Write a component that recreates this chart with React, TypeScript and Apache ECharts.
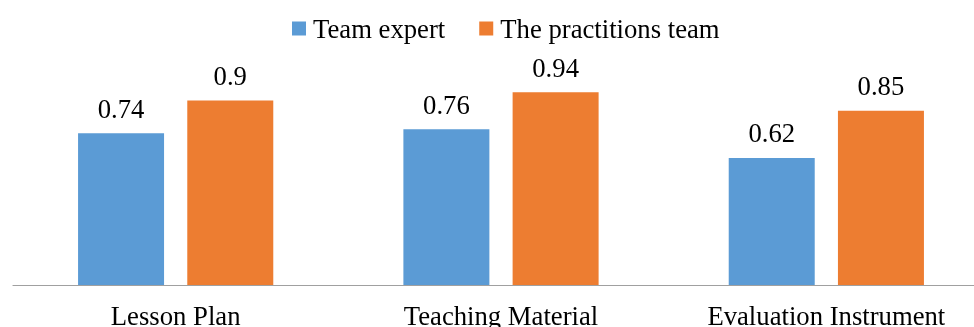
import React, { useEffect, useRef } from "react";
import * as echarts from "echarts";

const categories = ["Lesson Plan", "Teaching Material", "Evaluation Instrument"];
const teamExpert = [0.74, 0.76, 0.62];
const practitionsTeam = [0.9, 0.94, 0.85];
const seriesNames = ["Team expert", "The practitions team"];

const FONT = "Liberation Serif";
const FS = 26.7;

export default function App() {
  const ref = useRef<HTMLDivElement>(null);
  useEffect(() => {
    if (!ref.current) return;
    const chart = echarts.init(ref.current, undefined, { renderer: "svg" });
    const labelStyle = {
      show: true,
      position: "top",
      distance: 11,
      fontFamily: FONT,
      fontWeight: "normal",
      fontSize: FS,
      color: "#000",
      textBorderWidth: 0,
      textBorderColor: "transparent",
    };
    chart.setOption({
      animation: false,
      textStyle: { fontFamily: FONT },
      legend: {
        left: 292,
        top: 15,
        padding: 0,
        itemWidth: 14,
        itemHeight: 14,
        itemGap: 34,
        icon: "rect",
        textStyle: { fontFamily: FONT, fontSize: FS, color: "#000", padding: [0, 0, 0, 2] },
        data: seriesNames,
      },
      grid: {
        left: 13,
        top: 80,
        width: 976,
        bottom: 42,
        containLabel: false,
        outerBoundsMode: "none",
      },
      xAxis: {
        type: "category",
        data: categories,
        axisLine: { show: true, lineStyle: { color: "#A0A0A0", width: 1.2 } },
        axisTick: { show: false },
        axisLabel: { fontFamily: FONT, fontSize: FS, color: "#000", margin: 17 },
      },
      yAxis: {
        type: "value",
        min: 0,
        max: 1,
        show: false,
        splitLine: { show: false },
      },
      series: [
        {
          name: seriesNames[0],
          type: "bar",
          data: teamExpert,
          barWidth: 86,
          barGap: "27%",
          itemStyle: { color: "#5B9BD5" },
          label: labelStyle,
        },
        {
          name: seriesNames[1],
          type: "bar",
          data: practitionsTeam,
          barWidth: 86,
          barGap: "27%",
          itemStyle: { color: "#ED7D31" },
          label: labelStyle,
        },
      ],
    });
    return () => chart.dispose();
  }, []);
  return (
    <div style={{ position: "fixed", left: 0, top: 0, width: 974, height: 327, overflow: "hidden" }}>
      <div ref={ref} style={{ width: 1000, height: 327 }} />
    </div>
  );
}
